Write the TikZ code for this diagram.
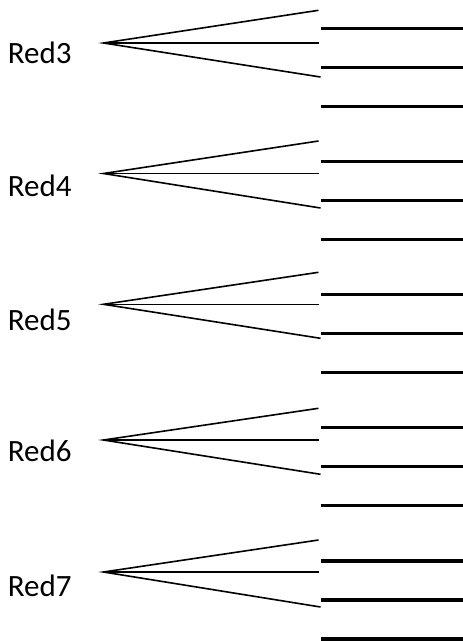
\documentclass[tikz,border=0pt]{standalone}
\usepackage{fontspec}
\setmainfont{Carlito}
\tikzset{
  fanline/.style={line width=1.6pt, line cap=butt},
  rungline/.style={line width=3.3pt, line cap=butt},
  redlabel/.style={inner sep=0pt, anchor=base west, font=\fontsize{31}{34}\selectfont}
}
\begin{document}
\begin{tikzpicture}[x=1pt, y=-1pt]
  \useasboundingbox (0,0) rectangle (463,641);
  % name / apex y / fan top / fan middle / fan bottom / label baseline / first rung
  \foreach \nm/\ay/\ty/\my/\by/\ly/\ry in {
      3/43/10.3/43/77/63.3/28.3,
      4/173.5/141/173.5/208/196/161.3,
      5/304.3/272.3/304.3/338.3/330/294.3,
      6/440/408.3/440/474.3/461.7/427.3,
      7/572/540/572/607/596/561}{
    \node[redlabel] (lab\nm) at (7.6,\ly) {Red\nm};
    \coordinate (apex\nm) at (103.5,\ay);
    \coordinate (top\nm) at (318.5,\ty);
    \coordinate (mid\nm) at (319,\my);
    \coordinate (bot\nm) at (320.5,\by);
    \draw[fanline] (top\nm) -- (apex\nm) -- (bot\nm);
    \draw[fanline] (apex\nm) -- (mid\nm);
    \foreach \k in {0,1,2}{
      \coordinate (rs\nm\k) at (320.7,\ry+39*\k);
      \coordinate (re\nm\k) at (463,\ry+39*\k);
      \draw[rungline] (rs\nm\k) -- (re\nm\k);
    }
  }
\end{tikzpicture}
\end{document}
